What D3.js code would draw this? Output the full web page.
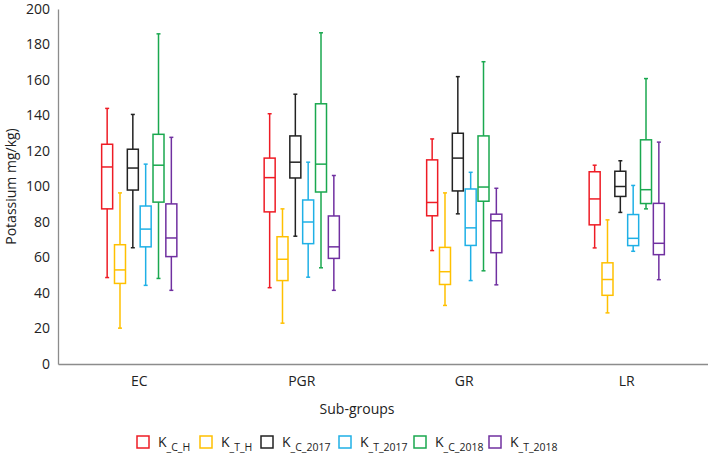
<!DOCTYPE html>
<html>
<head>
<meta charset="utf-8">
<script src="https://cdn.jsdelivr.net/npm/d3@7"></script>
<style>
  body { margin: 0; background: #fff; }
  text { font-family: "Open Sans", sans-serif; fill: #222; }
</style>
</head>
<body>
<svg id="chart" width="708" height="454"></svg>
<script>
// categories and series
const groups = ['EC', 'PGR', 'GR', 'LR'];
const seriesNames = ['C_H', 'T_H', 'C_2017', 'T_2017', 'C_2018', 'T_2018'];
const seriesColors = ['#ee1c25', '#ffc000', '#222222', '#1fb0e6', '#1aa84f', '#7030a0'];
const yTicks = [0, 20, 40, 60, 80, 100, 120, 140, 160, 180, 200];

// [min, q1, median, q3, max] per group (EC, PGR, GR, LR)
const kCH    = [[48.7, 87.4, 111, 123.8, 144], [43, 85.7, 105, 116, 141], [63.9, 83.5, 91, 115, 126.8], [65.4, 78.4, 93, 108.3, 112]];
const kTH    = [[20.2, 45.4, 53, 67.2, 96.4], [23, 47, 59, 71.7, 87.4], [33, 44.8, 52, 65.7, 96.4], [28.8, 38.7, 47.6, 57, 81.2]];
const kC2017 = [[65.5, 98, 110.4, 121, 140.6], [72, 104.8, 113.7, 128.5, 152], [84.6, 97.5, 116, 130, 161.9], [85.4, 94.4, 100, 108.6, 114.5]];
const kT2017 = [[44.3, 66, 76, 89, 112.6], [48.9, 67.8, 80, 92.4, 113.7], [47, 66.8, 76.7, 98.6, 108], [63.5, 66.7, 70.8, 84.2, 100.6]];
const kC2018 = [[48.2, 91.2, 112, 129.4, 186], [54.2, 96.9, 112.6, 146.6, 186.6], [52.5, 91.7, 99.7, 128.5, 170.3], [87.4, 90.4, 98.2, 126.3, 160.8]];
const kT2018 = [[41.5, 60.5, 71, 90.2, 127.7], [41.5, 59.5, 66, 83.4, 106.2], [44.6, 62.7, 80.7, 84.4, 99], [47.5, 61.6, 68, 90.5, 125]];
const seriesValues = [kCH, kTH, kC2017, kT2017, kC2018, kT2018];

const margin = { top: 9, right: 0, bottom: 90, left: 58 };
const svgWidth = 708, svgHeight = 454;
const width = svgWidth - margin.left - margin.right;
const height = svgHeight - margin.top - margin.bottom;

const svg = d3.select('#chart');
const g = svg.append('g').attr('transform', `translate(${margin.left},${margin.top})`);

const x = d3.scaleBand().domain(groups).range([0, width]).padding(0);
const inner = d3.scaleBand().domain(seriesNames)
    .range([-x.bandwidth() * 0.237, x.bandwidth() * 0.237]);
const y = d3.scaleLinear().domain([0, 200]).range([height, 0]);

// axes
const yAxis = d3.axisLeft(y).tickValues(yTicks).tickSize(0).tickPadding(8);
const yG = g.append('g').call(yAxis);
yG.select('.domain').attr('stroke', '#8c8c8c').attr('stroke-width', 1.3);
yG.selectAll('text').style('font-size', '14px').attr('fill', '#222');

const xAxis = d3.axisBottom(x).tickSize(0).tickPadding(12);
const xG = g.append('g').attr('transform', `translate(0,${height})`).call(xAxis);
xG.select('.domain').attr('stroke', '#8c8c8c').attr('stroke-width', 1.3);
xG.selectAll('text').style('font-size', '14px').attr('fill', '#222');

// boxes
const boxW = 11, capW = 4;
const rows = [];
seriesNames.forEach((s, si) => {
    groups.forEach((grp, gi) => {
        const v = seriesValues[si][gi];
        rows.push({ s, grp, color: seriesColors[si], min: v[0], q1: v[1], med: v[2], q3: v[3], max: v[4] });
    });
});

const box = g.selectAll('.box').data(rows).enter().append('g')
    .attr('class', 'box')
    .attr('transform', d => `translate(${x(d.grp) + x.bandwidth() / 2 + inner(d.s) + inner.bandwidth() / 2},0)`)
    .attr('stroke', d => d.color)
    .attr('stroke-width', 1.5)
    .attr('fill', 'none');

box.append('line').attr('x1', 0).attr('x2', 0).attr('y1', d => y(d.max)).attr('y2', d => y(d.q3));
box.append('line').attr('x1', 0).attr('x2', 0).attr('y1', d => y(d.q1)).attr('y2', d => y(d.min));
box.append('line').attr('x1', -capW / 2).attr('x2', capW / 2).attr('y1', d => y(d.max)).attr('y2', d => y(d.max));
box.append('line').attr('x1', -capW / 2).attr('x2', capW / 2).attr('y1', d => y(d.min)).attr('y2', d => y(d.min));
box.append('rect').attr('x', -boxW / 2).attr('width', boxW)
    .attr('y', d => y(d.q3)).attr('height', d => y(d.q1) - y(d.q3));
box.append('line').attr('x1', -boxW / 2).attr('x2', boxW / 2).attr('y1', d => y(d.med)).attr('y2', d => y(d.med));

// axis titles
svg.append('text')
    .attr('transform', `translate(16,${margin.top + height / 2}) rotate(-90)`)
    .attr('text-anchor', 'middle')
    .style('font-size', '14px')
    .text('Potassium mg/kg)');

svg.append('text')
    .attr('x', 357).attr('y', 414)
    .attr('text-anchor', 'middle')
    .style('font-size', '14px')
    .text('Sub-groups');

// legend
const legendX = [137, 200, 261, 339, 414, 489];
const legend = svg.selectAll('.legend').data(seriesNames).enter().append('g')
    .attr('class', 'legend')
    .attr('transform', (d, i) => `translate(${legendX[i]},436)`);
legend.append('rect').attr('width', 12).attr('height', 12)
    .attr('fill', 'none').attr('stroke-width', 1.5)
    .attr('stroke', (d, i) => seriesColors[i]);
const lt = legend.append('text').attr('x', 21).attr('y', 11).style('font-size', '14px');
lt.append('tspan').text('K');
lt.append('tspan').attr('dy', 4).style('font-size', '10.5px').text(d => '_' + d);
</script>
</body>
</html>
